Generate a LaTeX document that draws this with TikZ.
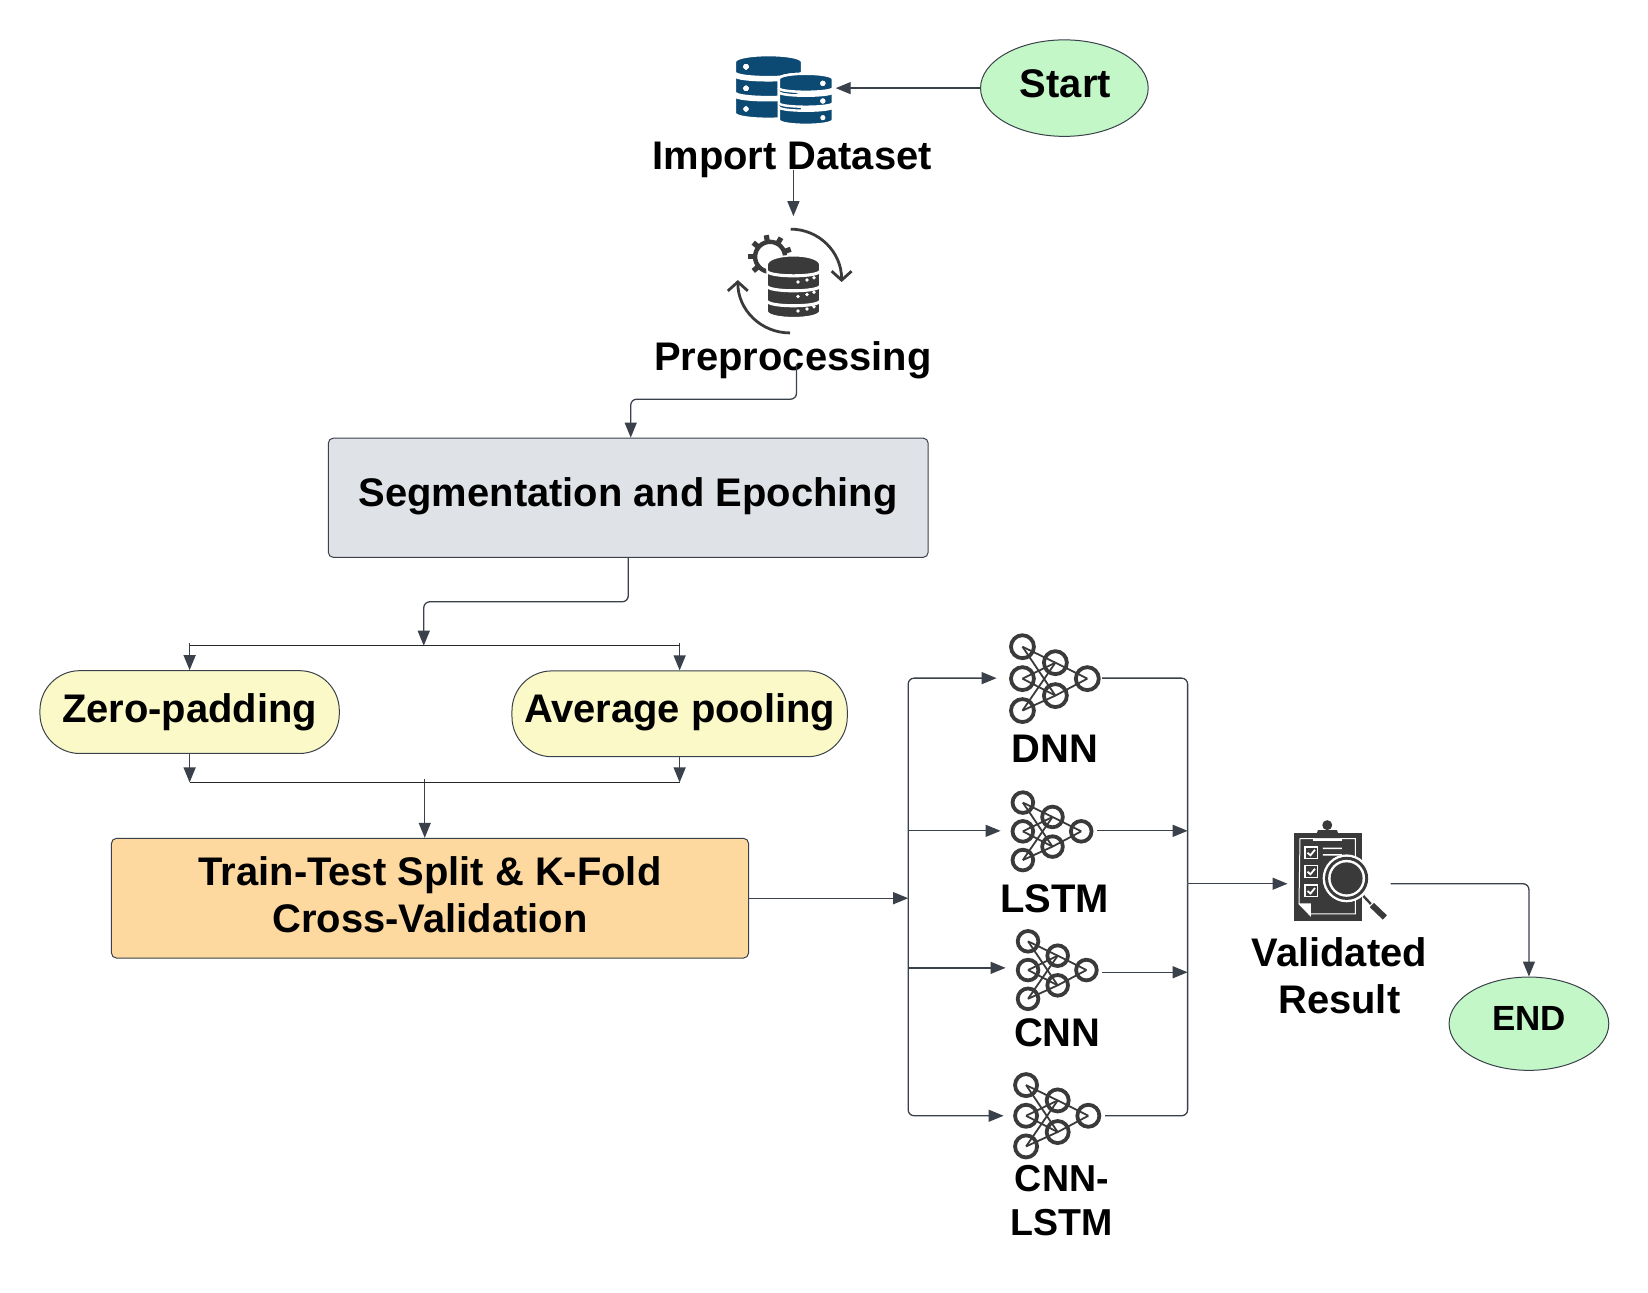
\documentclass[tikz,border=0pt]{standalone}
\usepackage{fontspec}
\setmainfont{Liberation Sans}
\usetikzlibrary{arrows.meta, shapes.geometric}

\definecolor{linkgray}{HTML}{3A414A}
\definecolor{icongray}{HTML}{3A3A3A}
\definecolor{dbblue}{HTML}{0D4A73}
\definecolor{okgreen}{HTML}{C3F7C8}
\definecolor{padyellow}{HTML}{FBF9C8}
\definecolor{splitorange}{HTML}{FDD9A0}
\definecolor{epochgray}{HTML}{DFE3E8}

% one band of a database stack: options, left, right, top, bottom, top bulge, bottom bulge
\newcommand{\dbtier}[7]{
  \draw[#1] (#2,#4) .. controls (#2,#4+#6) and (#3,#4+#6) .. (#3,#4)
    -- (#3,#5) .. controls (#3,#5+#7) and (#2,#5+#7) .. (#2,#5) -- cycle;
}

\begin{document}
\begin{tikzpicture}[x=0.5pt,y=-0.5pt,>={Triangle[length=7.5pt,width=6pt]},shorten >=0pt,
  big text/.style={font=\bfseries\fontsize{20}{23.7}\selectfont},
  link/.style={->,color=linkgray,line width=0.65pt,rounded corners=3pt},
  plain link/.style={draw=linkgray,line width=0.65pt,rounded corners=3pt},
  bar line/.style={draw=black!85,line width=0.7pt},
  label node/.style={big text,inner sep=0,anchor=base,align=center},
  end node/.style={ellipse,draw=linkgray,line width=0.5pt,fill=okgreen,inner sep=0,big text,text height=14pt},
  pad node/.style={rectangle,rounded corners=20pt,draw=linkgray,line width=0.5pt,fill=padyellow,inner sep=0,big text,text height=14pt},
  flow node/.style={rectangle,rounded corners=2.5pt,draw=linkgray,line width=0.5pt,inner sep=0,big text,align=center},
  icon node/.style={rectangle,inner sep=0},
  nn wire/.style={draw=icongray,line width=0.9pt},
  nn ring/.style={draw=icongray,line width=1.9pt},
  nn icon/.pic={
    \foreach \i in {-32,0,32} \foreach \j in {-16,17} \draw[nn wire] (-33,\i) -- (0,\j);
    \draw[nn wire] (0,-16) -- (32,0) (0,17) -- (32,0);
    \foreach \p in {(-33,-32),(-33,0),(-33,32),(0,-16),(0,17),(32,0)} \draw[nn ring] \p circle [radius=11.5];
  }]

  \useasboundingbox (0,0) rectangle (1651.3,1294.6);

  \node[end node,minimum width=84pt,minimum height=48.35pt,text depth=4.3pt] (start) at (1066.5,88.3) {\hspace{1pt}Start};
  \node[icon node,minimum width=51pt,minimum height=36pt] (dbicon) at (786,88.3) {};
  \node[label node] (import) at (793.75,170) {Import Dataset};
  \node[icon node,minimum width=62pt,minimum height=66pt] (prepicon) at (795,283) {};
  \node[label node] (preproc) at (794.5,371.5) {Preprocessing};
  \node[flow node,fill=epochgray,minimum width=300.5pt,minimum height=59.75pt,text height=14pt,text depth=5.6pt] (seg) at (629.5,498.75) {Segmentation and Epoching};

  \coordinate (split) at (424.6,647);
  \coordinate (merge) at (425.6,784);

  \node[pad node,minimum width=150pt,minimum height=41.5pt,text depth=3.7pt] (zero) at (190,713.5) {Zero-padding};
  \node[pad node,minimum width=168pt,minimum height=43pt,text depth=5.5pt] (avg) at (681,715.25) {Average pooling};
  \node[flow node,fill=splitorange,minimum width=319.15pt,minimum height=60pt,text depth=4pt] (train) at (430.85,900) {Train-Test Split \& K-Fold\\Cross-Validation};

  \coordinate (left rail) at (910,900);
  \coordinate (right rail) at (1190,885.5);

  \node[icon node,minimum width=52.5pt,minimum height=40pt] (dnnicon) at (1051.5,679.5) {};
  \node[icon node,minimum width=47.9pt,minimum height=36pt] (lstmicon) at (1050.9,832.5) {};
  \node[icon node,minimum width=48pt,minimum height=36pt] (cnnicon) at (1056,972) {};
  \node[icon node,minimum width=50.5pt,minimum height=38pt] (hybridicon) at (1056.5,1118) {};
  \node[label node] (dnn) at (1057,764) {DNN};
  \node[label node] (lstm) at (1057,914) {LSTM};
  \node[label node] (cnn) at (1059.5,1049) {CNN};
  \node[label node,anchor=center,font=\bfseries\fontsize{18.8}{22.4}\selectfont] (hybrid) at (1064,1203) {CNN-\\LSTM};

  \node[icon node,minimum width=51.25pt,minimum height=46pt] (valicon) at (1341.75,885.5) {};
  \node[label node,anchor=center] (valid) at (1342,978) {Validated\\Result};
  \node[end node,minimum width=80pt,minimum height=46.75pt,text height=12.5pt,text depth=5.2pt,font=\bfseries\fontsize{17.5}{20}\selectfont] (end) at (1532,1025.75) {END};

  % flow
  \path[link]
    (start) edge (dbicon)
    (right rail) edge (valicon.west)
    (train.east) edge (left rail)
    (import.base -| prepicon.north) edge (prepicon.north)
    (zero.south) edge (zero.south |- merge)
    (avg.south) edge (avg.south |- merge)
    ([yshift=1.5pt]merge) edge (merge |- train.north)
    ([yshift=1.5pt]zero.north |- split) edge (zero.north)
    ([yshift=1.5pt]avg.north |- split) edge (avg.north);
  \draw[link] ([shift={(1.8pt,3.5pt)}]preproc.base) -- ++(0,35.5) -| ([xshift=1.25pt]seg.north);
  \draw[link] (seg.south) -- ++(0,44) -| (split);
  \draw[bar line] (zero.north |- split) -- (avg.north |- split);
  \draw[bar line] (zero.south |- merge) -- (avg.south |- merge);

  % models
  \draw[link] (left rail) |- (dnnicon.west);
  \draw[link] (left rail) |- (hybridicon.west);
  \path[link]
    (left rail |- lstmicon.west) edge (lstmicon.west)
    ([yshift=1.1pt]left rail |- cnnicon.west) edge ([yshift=1.1pt]cnnicon.west)
    (lstmicon.east) edge (lstmicon.east -| right rail)
    ([yshift=-1.1pt]cnnicon.east) edge ([yshift=-1.1pt]cnnicon.east -| right rail);
  \draw[plain link] (dnnicon.east) -| (right rail);
  \draw[plain link] (hybridicon.east) -| (right rail);
  \draw[link] (valicon.east) -| (end.north);

  \pic at (1057.5,680) {nn icon};
  \pic[scale=0.9] at (1054.6,833) {nn icon};
  \pic[scale=0.9] at (1059.8,972) {nn icon};
  \pic[scale=0.96] at (1059.8,1118) {nn icon};

  % import icon
  \begin{scope}[shift={(1.5,0.2)}]
  \foreach \a/\b/\c/\d/\e/\f in {735/802/62/72/-9/6.5, 735/802/76/92/6/6.5, 735/802/96/113/6/7.5}
    \dbtier{fill=dbblue,draw=white,line width=1pt}{\a}{\b}{\c}{\d}{\e}{\f}
  \foreach \a/\b/\c/\d/\e/\f in {779/833/79/88/-7/5, 779/833/92/103/5/5, 779/833/107/120/5/6.5}
    \dbtier{fill=dbblue,draw=white,line width=1.2pt}{\a}{\b}{\c}{\d}{\e}{\f}
  \foreach \p in {(746,66.7),(746,88.3),(746,109),(823,83.3),(823,101),(823,117.7)}
    \fill[white] \p circle [radius=2.6];
  \end{scope}

  % preprocessing icon
  \begin{scope}[shift={(1.6,0.6)}]
  \draw[icongray,line width=2.2pt] (770,256.7) circle [radius=15];
  \foreach \a in {20,60,...,220}
    \draw[icongray,line width=2.6pt] ({770+14*cos(\a)},{256.7-14*sin(\a)}) -- ({770+22*cos(\a)},{256.7-22*sin(\a)});
  \dbtier{fill=icongray,draw=white,line width=0.8pt}{767}{820}{265}{270}{-12.5}{6.7}
  \dbtier{fill=icongray,draw=white,line width=0.8pt}{767}{820}{271.5}{285}{6.7}{6.7}
  \dbtier{fill=icongray,draw=white,line width=0.8pt}{767}{820}{286.5}{300}{6.7}{6.7}
  \dbtier{fill=icongray,draw=white,line width=0.8pt}{767}{820}{301.5}{311}{6.7}{9}
  \foreach \r in {0,14.5,29}
    \foreach \p/\q in {798/282,807/280,814/277.7}
      \fill[white] (\p,\q+\r) circle [radius=1.9];
  \draw[icongray,line width=1.4pt,-{Straight Barb[length=4.5pt,width=10pt]}] (790.7,229) .. controls (819,229) and (841.7,252) .. (841.7,282);
  \draw[icongray,line width=1.4pt,-{Straight Barb[length=4.5pt,width=10pt]}] (790,333) .. controls (761,333) and (737.7,310) .. (737.7,280);
  \end{scope}

  % result icon
  \begin{scope}[shift={(2.6,1.8)}]
  \fill[icongray] (1294,833.3) rectangle (1361.7,921);
  \draw[white,line width=0.5pt] (1300,838.5) -- (1355.5,838.5) -- (1355.5,914) -- (1309,914) -- (1299,904) -- cycle;
  \fill[white] (1298.5,903.5) -- (1311,903.5) -- (1311,917) -- cycle;
  \fill[white] (1313,839) rectangle (1342,840.5);
  \fill[icongray] (1315,838) -- (1318,830) -- (1337,830) -- (1340,838) -- cycle;
  \fill[icongray] (1327.3,825) circle [radius=5];
  \foreach \y in {846.7,865.7,885}
  {
    \draw[white,line width=0.7pt] (1305,\y) rectangle (1317.5,\y+11.5);
    \draw[white,line width=0.9pt] (1307.5,\y+6) -- (1310.5,\y+8.5) -- (1315,\y+3);
  }
  \fill[white] (1323,847.5) rectangle (1342,849) (1323,854) rectangle (1342,855.5);
  \fill[white] (1346.7,878.3) circle [radius=24];
  \fill[icongray] (1346.7,878.3) circle [radius=21.6];
  \fill[white] (1346.7,878.3) circle [radius=18.5];
  \fill[icongray] (1346.7,878.3) circle [radius=16];
  \draw[icongray,line width=1.2pt] (1363.5,896) -- (1371,904);
  \draw[icongray,line width=3pt] (1372,905) -- (1385,917.5);
  \end{scope}

\end{tikzpicture}
\end{document}
